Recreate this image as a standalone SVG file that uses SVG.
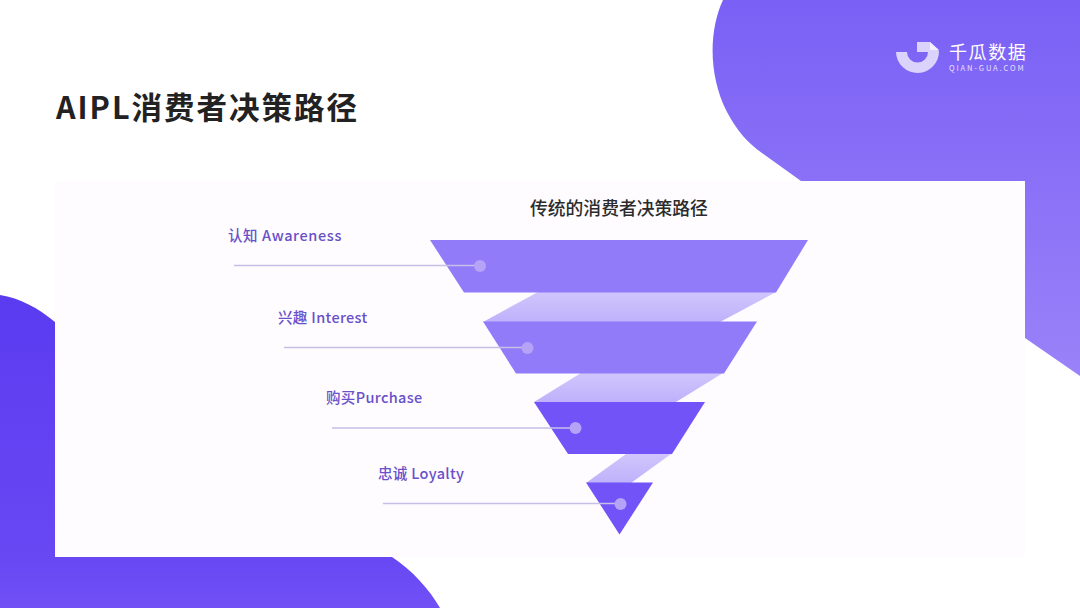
<svg xmlns="http://www.w3.org/2000/svg" width="1080" height="608" viewBox="0 0 1080 608">
<style>
text{font-family:"Noto Sans CJK SC","Noto Sans",sans-serif}
.label{font-size:14.5px;font-weight:500;fill:#6a50c9;letter-spacing:.35px}
.dot{fill:#b5a3f8}
.lead{stroke:#c6bfe8;stroke-width:1.3;fill:none}
.light{fill:#917bf9}
.deep{fill:#7153f8}
.ribbon{fill:url(#rib)}
</style>
<defs>
<linearGradient id="tr" x1="0" y1="0" x2="0" y2="1"><stop offset="0" stop-color="#7a60f5"/><stop offset="1" stop-color="#9a82f9"/></linearGradient>
<linearGradient id="bl" x1="0" y1="0" x2="0" y2="1"><stop offset="0" stop-color="#5b3bf0"/><stop offset=".85" stop-color="#6848f3"/><stop offset="1" stop-color="#7150f6"/></linearGradient>
<linearGradient id="rib" x1="0" y1="0" x2="0" y2="1"><stop offset="0" stop-color="#d0c6fc"/><stop offset="1" stop-color="#bfb1fb"/></linearGradient>
</defs>
<rect width="1080" height="608" fill="#fff"/>
<path d="M723 0C709 30 708 75 727 112C737 131 748 143 762 153L801 181H1025V338L1080 376V0Z" fill="url(#tr)"/>
<path d="M0 295C20 298 38 308 55 322V557H392C412 570 430 590 440 608H0Z" fill="url(#bl)"/>
<rect x="55" y="181" width="970" height="376" fill="#fefcff"/>
<text x="56" y="119" font-size="30.5" font-weight="700" letter-spacing="2" fill="#222">AIPL消费者决策路径</text>
<text x="530" y="215" font-size="17.8" font-weight="500" fill="#2b2b2b">传统的消费者决策路径</text>
<g id="logo">
<path d="M896 52H907A10.5 10.5 0 0 0 928 52H917V42H930L939 51A21.5 21.5 0 0 1 896 52Z" fill="#dcd3fc"/>
<path d="M930 42L939 50H930Z" fill="#f4f0ff"/>
<text x="949" y="59" font-size="18" letter-spacing="1.6" fill="#fff">千瓜数据</text>
<text x="949" y="71" font-size="7.6" letter-spacing="1.85" fill="#e6e0fd">QIAN-GUA.COM</text>
</g>
<g id="ribbons">
<polygon class="ribbon" points="538,292 776,292 720,322 483,322"/>
<polygon class="ribbon" points="581,373 723,373 676,402 534,402"/>
<polygon class="ribbon" points="626,454 671,454 631,483 586,483"/>
</g>
<g id="awareness">
<polygon class="light" points="430,240 808,240 776,292.5 464,292.5"/>
<text class="label" x="228" y="241" style="letter-spacing:.62px">认知 Awareness</text>
</g>
<g id="interest">
<polygon class="light" points="483,321.5 757,321.5 724,373.5 516,373.5"/>
<text class="label" x="278" y="323">兴趣 Interest</text>
</g>
<g id="purchase">
<polygon class="deep" points="534,402 705,402 672,454 568,454"/>
<text class="label" x="326" y="403">购买Purchase</text>
</g>
<g id="loyalty">
<polygon class="deep" points="586,482.5 653,482.5 619.5,534.5"/>
<text class="label" x="378" y="479">忠诚 Loyalty</text>
</g>
<g id="connectors">
<line class="lead" x1="234" y1="265.5" x2="480" y2="265.5"/>
<line class="lead" x1="284" y1="347.5" x2="527" y2="347.5"/>
<line class="lead" x1="332" y1="428" x2="575" y2="428"/>
<line class="lead" x1="383" y1="503.5" x2="620" y2="503.5"/>
<circle class="dot" cx="480" cy="266" r="6"/>
<circle class="dot" cx="527.5" cy="348" r="6"/>
<circle class="dot" cx="575.5" cy="428" r="6"/>
<circle class="dot" cx="620.5" cy="504" r="6"/>
</g>
</svg>
